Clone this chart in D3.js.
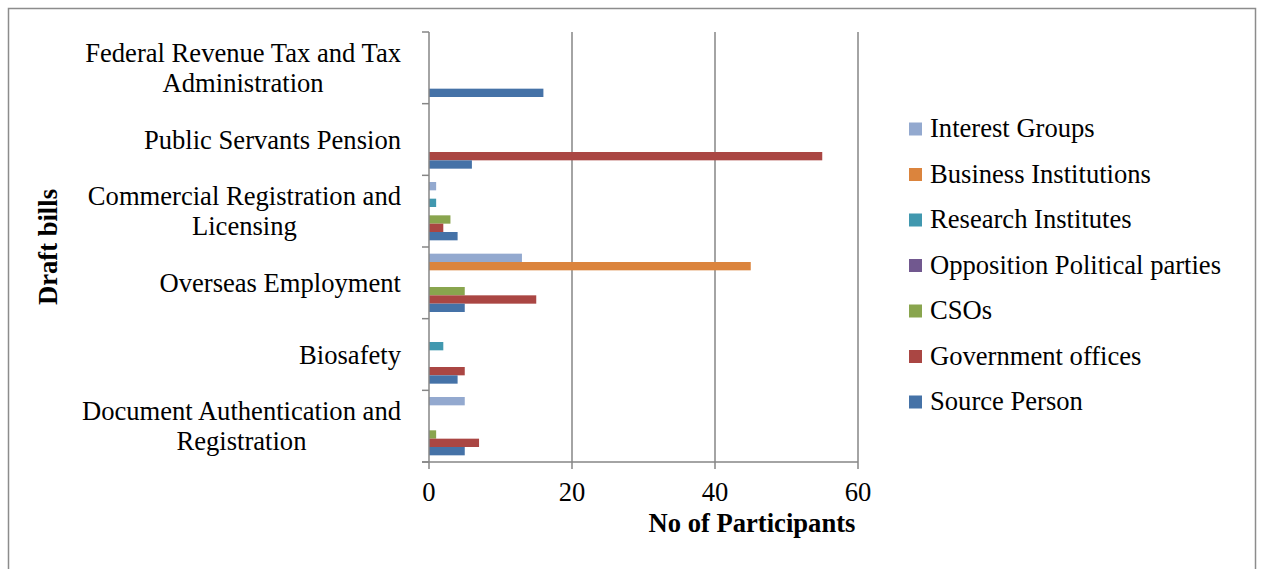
<!DOCTYPE html>
<html>
<head>
<meta charset="utf-8">
<script src="https://cdn.jsdelivr.net/npm/d3@7"></script>
<style>
  html, body { margin: 0; padding: 0; background: #fff; }
  svg { display: block; }
  text { font-family: "Liberation Serif", "Times New Roman", serif; fill: #000; }
</style>
</head>
<body>
<svg id="chart" width="1261" height="569"></svg>
<script>
// Categories, top to bottom as drawn
const categories = [
  "Federal Revenue Tax and Tax\nAdministration",
  "Public Servants Pension",
  "Commercial Registration and\nLicensing",
  "Overseas Employment",
  "Biosafety",
  "Document Authentication and\nRegistration"
];
// Series names (legend order, top to bottom)
const seriesNames = ["Interest Groups", "Business Institutions", "Research Institutes",
  "Opposition Political parties", "CSOs", "Government offices", "Source Person"];
const seriesColors = ["#93A9CF", "#DB843D", "#4198AF", "#71588F", "#89A54E", "#AA4643", "#4572A7"];
// Values per category (same order as categories)
const interestGroups       = [0, 0, 1, 13, 0, 5];
const businessInstitutions = [0, 0, 0, 45, 0, 0];
const researchInstitutes   = [0, 0, 1, 0, 2, 0];
const oppositionParties    = [0, 0, 0, 0, 0, 0];
const csos                 = [0, 0, 3, 5, 0, 1];
const governmentOffices    = [0, 55, 2, 15, 5, 7];
const sourcePerson         = [16, 6, 4, 5, 4, 5];
const xTicks = [0, 20, 40, 60];
const xAxisTitle = "No of Participants";
const yAxisTitle = "Draft bills";

const seriesValues = [interestGroups, businessInstitutions, researchInstitutes,
  oppositionParties, csos, governmentOffices, sourcePerson];

const svg = d3.select("#chart");
const FS = 26.6;
const gridColor = "#868686";

// outer border
svg.append("rect").attr("x", 8.5).attr("y", 8.5).attr("width", 1247).attr("height", 580)
  .attr("fill", "none").attr("stroke", "#8c8c8c").attr("stroke-width", 1.5);

const plot = { left: 429, right: 858, top: 32, bottom: 462 };

const x = d3.scaleLinear().domain([0, 60]).range([plot.left, plot.right]);
const y = d3.scaleBand().domain(categories).range([plot.top, plot.bottom]).padding(0);
const yi = d3.scaleBand().domain(seriesNames).range([0, y.bandwidth()])
  .paddingInner(0).paddingOuter(0.8);

// gridlines
svg.append("g").selectAll("line").data(xTicks.filter(d => d > 0)).join("line")
  .attr("x1", d => x(d)).attr("x2", d => x(d))
  .attr("y1", plot.top).attr("y2", plot.bottom)
  .attr("stroke", gridColor).attr("stroke-width", 1.5);

// bars
const rows = [];
categories.forEach((c, ci) => {
  seriesNames.forEach((s, si) => {
    rows.push({ c, s, v: seriesValues[si][ci], color: seriesColors[si] });
  });
});
svg.append("g").selectAll("rect").data(rows.filter(d => d.v > 0)).join("rect")
  .attr("x", x(0))
  .attr("y", d => y(d.c) + yi(d.s))
  .attr("width", d => x(d.v) - x(0))
  .attr("height", yi.bandwidth())
  .attr("fill", d => d.color);

// y axis (category axis)
const yAxis = svg.append("g").attr("transform", `translate(${plot.left},0)`);
yAxis.append("line").attr("x1", 0).attr("x2", 0).attr("y1", plot.top).attr("y2", plot.bottom)
  .attr("stroke", gridColor).attr("stroke-width", 1.5);
const yBounds = categories.map(c => y(c)).concat([plot.bottom]);
yAxis.selectAll("line.tk").data(yBounds).join("line").attr("class", "tk")
  .attr("x1", -7).attr("x2", 0).attr("y1", d => d).attr("y2", d => d)
  .attr("stroke", gridColor).attr("stroke-width", 1.5);

// x axis
const xAxis = svg.append("g").attr("transform", `translate(0,${plot.bottom})`);
xAxis.append("line").attr("x1", plot.left - 7).attr("x2", plot.right).attr("y1", 0).attr("y2", 0)
  .attr("stroke", gridColor).attr("stroke-width", 1.5);
xAxis.selectAll("line.tk").data(xTicks).join("line").attr("class", "tk")
  .attr("x1", d => x(d)).attr("x2", d => x(d)).attr("y1", 0).attr("y2", 7)
  .attr("stroke", gridColor).attr("stroke-width", 1.5);
xAxis.selectAll("text").data(xTicks).join("text")
  .attr("x", d => x(d)).attr("y", 39)
  .attr("text-anchor", "middle").attr("font-size", FS)
  .text(d => d);

// category labels
const labelRight = 401;
const lineH = 30;
categories.forEach(c => {
  const lines = c.split("\n");
  const g = svg.append("g");
  const cy = y(c) + y.bandwidth() / 2;
  const texts = lines.map((ln, i) => g.append("text")
    .attr("font-size", FS)
    .attr("y", cy + (i - (lines.length - 1) / 2) * lineH + 9)
    .text(ln));
  const maxW = d3.max(texts, t => t.node().getComputedTextLength());
  texts.forEach(t => t.attr("x", labelRight - maxW / 2).attr("text-anchor", "middle"));
});

// axis titles
svg.append("text").attr("x", 752).attr("y", 532).attr("text-anchor", "middle")
  .attr("font-size", FS).attr("font-weight", "bold").text(xAxisTitle);
svg.append("text").attr("transform", `translate(57,${(plot.top + plot.bottom) / 2}) rotate(-90)`)
  .attr("text-anchor", "middle").attr("font-size", FS).attr("font-weight", "bold").text(yAxisTitle);

// legend
const legend = svg.append("g").attr("transform", "translate(909,0)");
const legendY = d3.scalePoint().domain(seriesNames).range([129, 402]);
seriesNames.forEach((s, i) => {
  const cy = legendY(s);
  legend.append("rect").attr("x", 0).attr("y", cy - 6.5).attr("width", 13).attr("height", 13)
    .attr("fill", seriesColors[i]);
  legend.append("text").attr("x", 21).attr("y", cy + 8).attr("font-size", FS).text(s);
});
</script>
</body>
</html>
